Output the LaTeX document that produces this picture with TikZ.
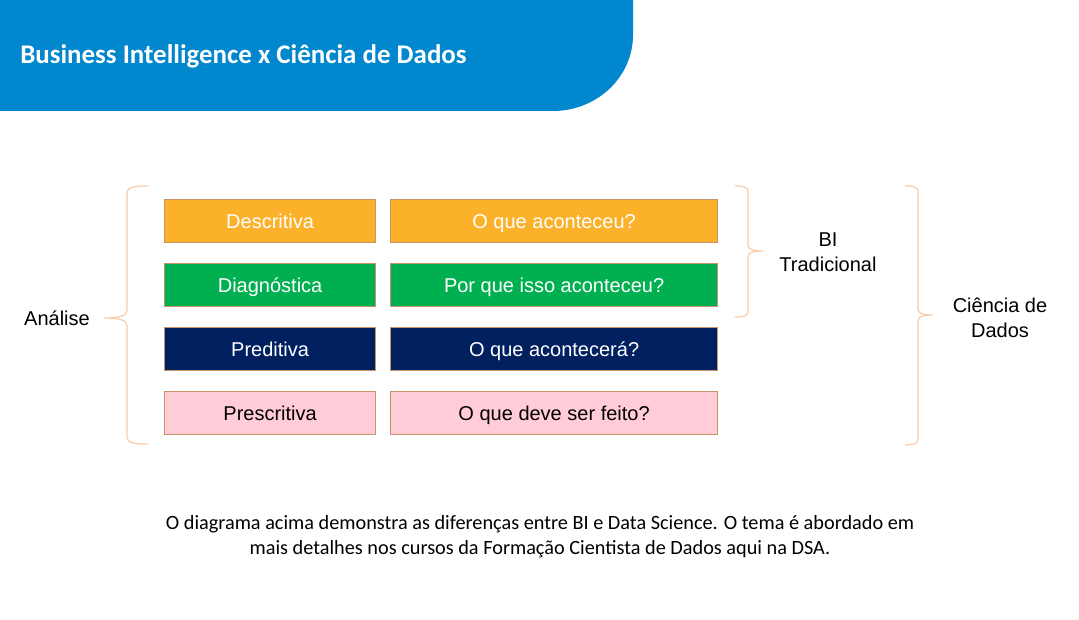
\documentclass[tikz,border=0pt]{standalone}
\usepackage{fontspec}
\setmainfont{Liberation Sans}
\newfontfamily\calib{Carlito}
\definecolor{hdrblue}{HTML}{0087CE}
\definecolor{cOrange}{HTML}{FBB12A}
\definecolor{cGreen}{HTML}{00B050}
\definecolor{cNavy}{HTML}{002060}
\definecolor{cPink}{HTML}{FFCCD7}
\definecolor{cBorder}{HTML}{C8926A}
\definecolor{cBrace}{HTML}{F9CBA8}
\begin{document}
\begin{tikzpicture}[x=0.75pt,y=-0.75pt,
  cell/.style={draw=cBorder, line width=0.9pt, anchor=north west, inner sep=0pt,
    text height=13pt, text depth=2pt,
    font=\fontsize{15}{18}\selectfont},
  lbox/.style={cell, minimum width=211*0.75pt, minimum height=43*0.75pt},
  rbox/.style={cell, minimum width=327*0.75pt, minimum height=43*0.75pt},
  brc/.style={draw=cBrace, line width=0.9pt},
  lbl/.style={font=\fontsize{15}{18.75}\selectfont, align=center}]
\useasboundingbox (0,0) rectangle (1079,620);
% header
\fill[hdrblue] (0,0) -- (633,0) -- (633,35) .. controls (633,77) and (597,111) .. (553,111) -- (0,111) -- cycle;
\node[anchor=west, text=white, inner sep=0pt, font=\calib\bfseries\fontsize{20.2}{24}\selectfont] (title) at (20,56) {Business Intelligence x Ciência de Dados};
% boxes
\node[lbox, fill=cOrange, text=white] (d1) at (164,199) {Descritiva};
\node[rbox, fill=cOrange, text=white] (q1) at (390,199) {O que aconteceu?};
\node[lbox, fill=cGreen, text=white] (d2) at (164,263) {Diagnóstica};
\node[rbox, fill=cGreen, text=white] (q2) at (390,263) {Por que isso aconteceu?};
\node[lbox, fill=cNavy, text=white] (d3) at (164,327) {Preditiva};
\node[rbox, fill=cNavy, text=white] (q3) at (390,327) {O que acontecerá?};
\node[lbox, fill=cPink, text=black] (d4) at (164,391) {Prescritiva};
\node[rbox, fill=cPink, text=black] (q4) at (390,391) {O que deve ser feito?};
% left brace
\draw[brc] (148,186) .. controls (133,186) and (127,187) .. (127,194) -- (127,310)
  .. controls (127,316) and (120,318) .. (104,318)
  .. controls (120,318) and (127,320) .. (127,326) -- (127,436)
  .. controls (127,443) and (133,444) .. (148,444);
% BI brace
\draw[brc] (735,186) .. controls (744,186) and (748,187) .. (748,192) -- (748,245)
  .. controls (748,249) and (752,251) .. (763,251)
  .. controls (752,251) and (748,253) .. (748,257) -- (748,311)
  .. controls (748,316) and (744,317) .. (735,317);
% Ciencia brace
\draw[brc] (905,186) .. controls (914,186) and (918,187) .. (918,192) -- (918,309)
  .. controls (918,313) and (922,315) .. (933,315)
  .. controls (922,315) and (918,317) .. (918,321) -- (918,439)
  .. controls (918,444) and (914,445) .. (905,445);
% labels
\node[lbl] (analise) at (57,318) {Análise};
\node[lbl] (bi) at (828,252) {BI\\Tradicional};
\node[lbl] (cd) at (1000,318) {Ciência de\\Dados};
% caption
\node[align=center, font=\calib\fontsize{15.2}{18.75}\selectfont] (cap) at (540,537)
  {O diagrama acima demonstra as diferenças entre BI e Data Science. O tema é abordado em\\mais detalhes nos cursos da Formação Cientista de Dados aqui na DSA.};
\end{tikzpicture}
\end{document}
